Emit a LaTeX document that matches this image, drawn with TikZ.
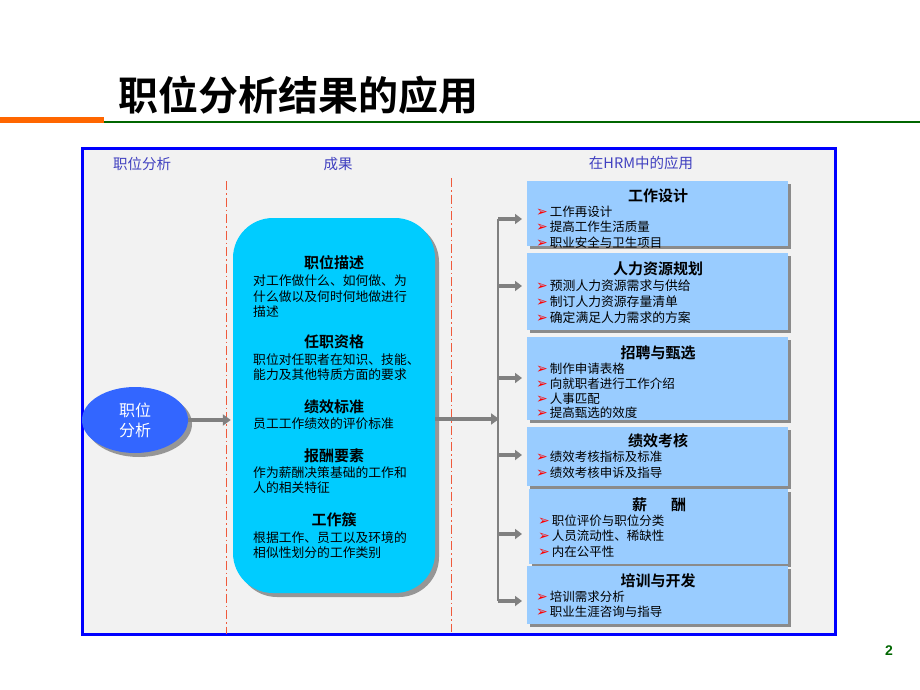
\documentclass[tikz,border=0pt]{standalone}
\usepackage{fontspec}
\newfontfamily\cjk{Noto Sans CJK SC}[BoldFont={Noto Sans CJK SC Bold}]
\newfontfamily\sym{DejaVu Sans}
\newfontfamily\arial{Liberation Sans}
\usetikzlibrary{shapes.geometric}
\usetikzlibrary{shadows}
\usetikzlibrary{arrows.meta}
\usetikzlibrary{positioning}
\definecolor{frameblue}{RGB}{0,0,255}
\definecolor{panelgray}{RGB}{242,242,242}
\definecolor{headblue}{RGB}{64,64,192}
\definecolor{cyanbox}{RGB}{0,204,255}
\definecolor{appblue}{RGB}{153,204,255}
\definecolor{ovalblue}{RGB}{51,102,255}
\definecolor{linered}{RGB}{240,90,60}
\definecolor{arrowgray}{RGB}{128,128,128}
\definecolor{barorange}{RGB}{255,102,0}
\definecolor{bargreen}{RGB}{0,102,0}
\newcommand\itm{{\color{red}\sym\fontsize{14}{14}\selectfont\char"27A2}\hspace{2pt}}

\begin{document}
\begin{tikzpicture}[
    x=1pt, y=-1pt,
    font=\cjk
]
\tikzset{
    header/.style = {text=headblue, font=\cjk\fontsize{14.5}{16}\selectfont},
    sect/.style   = {font=\cjk\bfseries\fontsize{15}{17}\selectfont, inner sep=0pt},
    body/.style   = {anchor=north west, align=left, inner sep=0pt, font=\cjk\fontsize{12.8}{15.5}\selectfont},
    items/.style  = {anchor=north west, align=left, inner sep=0pt, font=\cjk\fontsize{12.5}{15.2}\selectfont},
    appbox/.style = {rectangle, anchor=north west, fill=appblue, minimum width=261pt, inner sep=0pt,
                     drop shadow={shadow xshift=3pt, shadow yshift=-3pt, fill=gray, opacity=0.9}},
    oval/.style   = {ellipse, fill=ovalblue, text=white, align=center, minimum width=106pt, minimum height=66pt,
                     font=\cjk\fontsize{16}{20}\selectfont,
                     drop shadow={shadow xshift=4pt, shadow yshift=-4pt, fill=gray, opacity=0.8}},
    panel/.style  = {rectangle, rounded corners=40pt, fill=cyanbox, minimum width=202pt, minimum height=375pt,
                     drop shadow={shadow xshift=4pt, shadow yshift=-4pt, fill=gray, opacity=0.8}},
    divider/.style = {linered, line width=1pt, dash pattern=on 9pt off 3pt on 1.5pt off 3pt},
    bigarrow/.style = {arrowgray, line width=4pt, -{Triangle[length=8pt,width=11pt]}},
    brarrow/.style  = {arrowgray, line width=3.5pt, -{Triangle[length=7pt,width=10pt]}},
    trunk/.style    = {arrowgray, line width=2pt}
}
\useasboundingbox (0,0) rectangle (920,690);

% title and bars
\node[anchor=west, font=\cjk\bfseries\fontsize{40}{44}\selectfont] at (115,95) (title) {职位分析结果的应用};
\draw[barorange, line width=6pt] (0,120) -- (104,120);
\draw[bargreen, line width=2.5pt] (104,122) -- (920,122);

% frame
\draw[frameblue, line width=3.5pt, fill=panelgray] (82.5,148.5) rectangle (835.5,634.5);
\node[header] at (142,164) (h1) {职位分析};
\node[header] at (338,164) (h2) {成果};
\node[header] at (641,163) (h3) {在HRM中的应用};

\coordinate (l1a) at (226,181);
\coordinate (l1b) at (226,634);
\coordinate (l2a) at (451,178);
\coordinate (l2b) at (451,632);
\draw[divider] (l1a) -- (l1b);
\draw[divider] (l2a) -- (l2b);

% left oval and result panel
\node[oval] at (135,420) (jw) {职位\\分析};
\node[panel] at (334,405.5) (cy) {};

\node[sect] at (334,263) (s1) {职位描述};
\node[body] at (253,275) (d1) {对工作做什么、如何做、为\\什么做以及何时何地做进行\\描述};
\node[sect] at (334,342) (s2) {任职资格};
\node[body] at (253,353) (d2) {职位对任职者在知识、技能、\\能力及其他特质方面的要求};
\node[sect] at (334,407) (s3) {绩效标准};
\node[body] at (253,417) (d3) {员工工作绩效的评价标准};
\node[sect] at (334,456) (s4) {报酬要素};
\node[body] at (253,466) (d4) {作为薪酬决策基础的工作和\\人的相关特征};
\node[sect] at (334,520) (s5) {工作簇};
\node[body] at (253,531) (d5) {根据工作、员工以及环境的\\相似性划分的工作类别};

% application boxes
\node[appbox, minimum height=65pt] at (527,181) (b1) {};
\node[appbox, minimum height=77pt] at (527,253) (b2) {};
\node[appbox, minimum height=83pt] at (527,337) (b3) {};
\node[appbox, minimum height=59pt] at (527,427) (b4) {};
\node[appbox, minimum height=75pt, minimum width=259pt] at (529,489) (b5) {};
\node[appbox, minimum height=58pt] at (527,566) (b6) {};

\node[sect] at (658,196) (t1txt) {工作设计};
\node[items] at (536,206) (i1) {\itm 工作再设计\\\itm 提高工作生活质量\\\itm 职业安全与卫生项目};
\node[sect] at (658,269) (t2txt) {人力资源规划};
\node[items, font=\cjk\fontsize{12.8}{16}\selectfont] at (536,280) (i2) {\itm 预测人力资源需求与供给\\\itm 制订人力资源存量清单\\\itm 确定满足人力需求的方案};
\node[sect] at (658,353) (t3txt) {招聘与甄选};
\node[items, font=\cjk\fontsize{12.5}{14.7}\selectfont] at (536,363) (i3) {\itm 制作申请表格\\\itm 向就职者进行工作介绍\\\itm 人事匹配\\\itm 提高甄选的效度};
\node[sect] at (658,441) (t4txt) {绩效考核};
\node[items, font=\cjk\fontsize{12.5}{16}\selectfont] at (536,451) (i4) {\itm 绩效考核指标及标准\\\itm 绩效考核申诉及指导};
\node[sect] at (659,505) (t5txt) {薪\hspace{24pt}酬};
\node[items] at (538,515) (i5) {\itm 职位评价与职位分类\\\itm 人员流动性、稀缺性\\\itm 内在公平性};
\node[sect] at (658,581) (t6txt) {培训与开发};
\node[items] at (536,591) (i6) {\itm 培训需求分析\\\itm 职业生涯咨询与指导};

% connectors
\coordinate (hub) at (499,419);
\coordinate (r1) at (498,219);
\coordinate (r2) at (498,286);
\coordinate (r3) at (498,378);
\coordinate (r4) at (498,455);
\coordinate (r5) at (498,534);
\coordinate (r6) at (498,601);
\draw[bigarrow, shorten >=2pt] (jw.east) -- (jw.east -| cy.west);
\draw[bigarrow] (cy.east |- hub) -- (hub);
\draw[trunk] (r1) -- (r6);
\draw[brarrow, shorten >=5pt] (r1) -- (r1 -| b1.west);
\draw[brarrow, shorten >=5pt] (r2) -- (r2 -| b2.west);
\draw[brarrow, shorten >=5pt] (r3) -- (r3 -| b3.west);
\draw[brarrow, shorten >=5pt] (r4) -- (r4 -| b4.west);
\draw[brarrow, shorten >=7pt] (r5) -- (r5 -| b5.west);
\draw[brarrow, shorten >=5pt] (r6) -- (r6 -| b6.west);

\node[text=bargreen, font=\arial\bfseries\fontsize{14}{16}\selectfont] at (889,651) (pg) {2};
\end{tikzpicture}
\end{document}
